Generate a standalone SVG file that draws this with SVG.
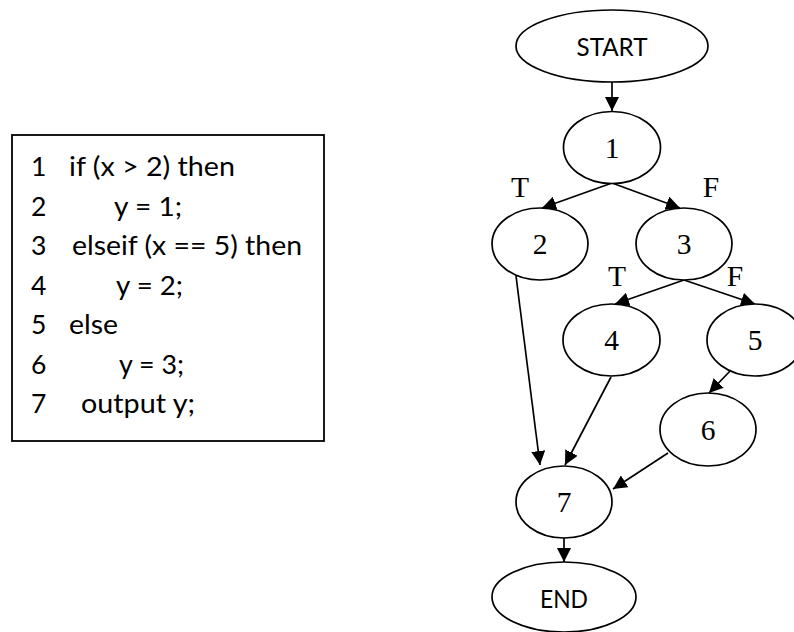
<svg xmlns="http://www.w3.org/2000/svg" width="794" height="632" viewBox="0 0 794 632">
  <style>
    .code { font-family: Lato, "Open Sans", sans-serif; font-size: 26.5px; fill: #000; }
    .term { font-family: Lato, "Open Sans", sans-serif; font-size: 25px; fill: #000; text-anchor: middle; }
    .num { font-family: "Liberation Serif", "DejaVu Serif", serif; font-size: 29.5px; fill: #000; text-anchor: middle; }
    .lbl { font-family: "Liberation Serif", "DejaVu Serif", serif; font-size: 29.5px; fill: #000; text-anchor: middle; }
    .shape { fill: #fff; stroke: #000; stroke-width: 1.7; }
    .edge { fill: none; stroke: #000; stroke-width: 1.7; marker-end: url(#arrow); }
  </style>
  <defs>
    <marker id="arrow" markerUnits="userSpaceOnUse" markerWidth="15" markerHeight="14" refX="14" refY="7" orient="auto">
      <path d="M0,0 L14,7 L0,14 z" fill="#000"/>
    </marker>
  </defs>
  <rect width="794" height="632" fill="#fff"/>

  <!-- source listing -->
  <g id="listing">
    <rect x="12" y="135" width="312" height="306" fill="#fff" stroke="#000" stroke-width="1.8"/>
    <text class="code" x="31" y="176">1</text>
    <text class="code" x="69" y="176" textLength="166" lengthAdjust="spacingAndGlyphs">if (x &gt; 2) then</text>
    <text class="code" x="31" y="215.5">2</text>
    <text class="code" x="114" y="215.5" textLength="68" lengthAdjust="spacingAndGlyphs">y = 1;</text>
    <text class="code" x="31" y="255">3</text>
    <text class="code" x="72" y="255" textLength="230" lengthAdjust="spacingAndGlyphs">elseif (x == 5) then</text>
    <text class="code" x="31" y="294.5">4</text>
    <text class="code" x="116" y="294.5" textLength="67" lengthAdjust="spacingAndGlyphs">y = 2;</text>
    <text class="code" x="31" y="334">5</text>
    <text class="code" x="69" y="334" textLength="49" lengthAdjust="spacingAndGlyphs">else</text>
    <text class="code" x="31" y="373.5">6</text>
    <text class="code" x="119" y="373.5" textLength="65" lengthAdjust="spacingAndGlyphs">y = 3;</text>
    <text class="code" x="31" y="413">7</text>
    <text class="code" x="81" y="413" textLength="114" lengthAdjust="spacingAndGlyphs">output y;</text>
  </g>

  <!-- control-flow edges -->
  <g id="edges">
    <line class="edge" x1="612" y1="82" x2="612" y2="111"/>
    <line class="edge" x1="612" y1="183" x2="542" y2="208"/>
    <line class="edge" x1="612" y1="183" x2="680" y2="208"/>
    <line class="edge" x1="684" y1="280" x2="615" y2="304"/>
    <line class="edge" x1="684" y1="280" x2="755" y2="304"/>
    <line class="edge" x1="731" y1="370" x2="709" y2="393"/>
    <line class="edge" x1="516" y1="276" x2="540" y2="465"/>
    <line class="edge" x1="611" y1="377" x2="565" y2="465"/>
    <line class="edge" x1="668" y1="453" x2="613" y2="489"/>
    <line class="edge" x1="564" y1="538" x2="564" y2="562"/>
  </g>

  <!-- branch labels -->
  <g id="labels">
    <text class="lbl" x="520" y="197">T</text>
    <text class="lbl" x="711" y="197">F</text>
    <text class="lbl" x="617" y="286">T</text>
    <text class="lbl" x="735" y="286">F</text>
  </g>

  <g id="start">
    <ellipse class="shape" cx="612" cy="46" rx="96" ry="36"/>
    <text class="term" x="612" y="56" textLength="71" lengthAdjust="spacingAndGlyphs">START</text>
  </g>
  <g id="n1">
    <ellipse class="shape" cx="612" cy="147.5" rx="48.5" ry="36"/>
    <text class="num" x="612" y="157.5">1</text>
  </g>
  <g id="n2">
    <ellipse class="shape" cx="540" cy="244" rx="48" ry="36"/>
    <text class="num" x="540" y="254">2</text>
  </g>
  <g id="n3">
    <ellipse class="shape" cx="684" cy="244" rx="48" ry="36"/>
    <text class="num" x="684" y="254">3</text>
  </g>
  <g id="n4">
    <ellipse class="shape" cx="611.5" cy="340" rx="48.5" ry="36"/>
    <text class="num" x="611.5" y="350">4</text>
  </g>
  <g id="n5">
    <ellipse class="shape" cx="755" cy="340" rx="48" ry="36"/>
    <text class="num" x="755" y="350">5</text>
  </g>
  <g id="n6">
    <ellipse class="shape" cx="708" cy="429.5" rx="48" ry="36.5"/>
    <text class="num" x="708" y="439.5">6</text>
  </g>
  <g id="n7">
    <ellipse class="shape" cx="564" cy="502" rx="48" ry="36"/>
    <text class="num" x="564" y="512">7</text>
  </g>
  <g id="end">
    <ellipse class="shape" cx="564" cy="597" rx="72" ry="35"/>
    <text class="term" x="564" y="608" textLength="48" lengthAdjust="spacingAndGlyphs">END</text>
  </g>
</svg>
